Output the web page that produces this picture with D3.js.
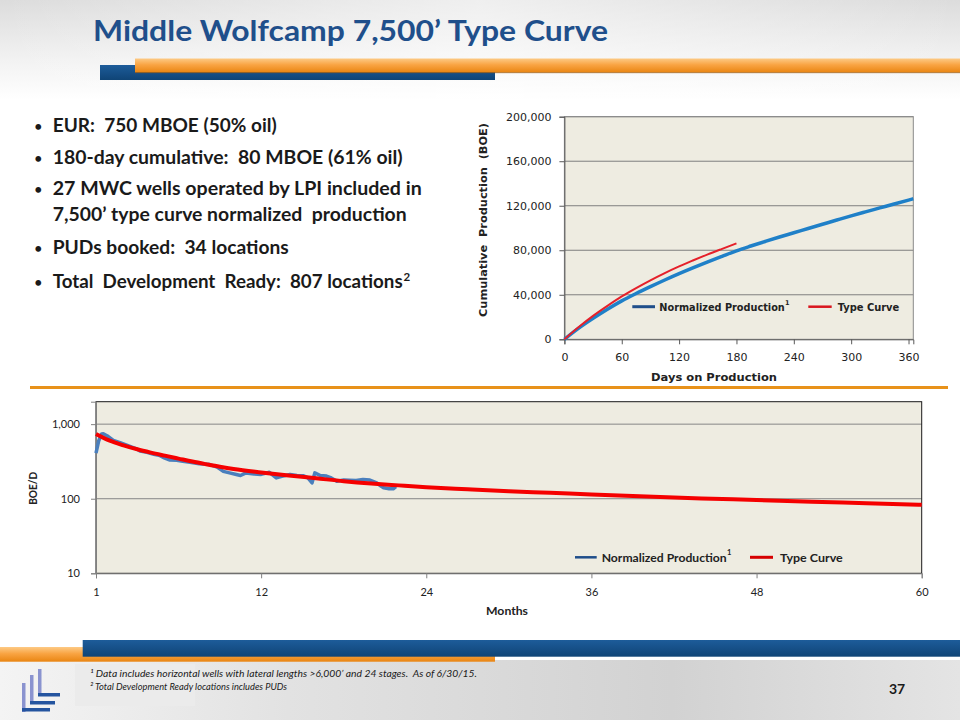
<!DOCTYPE html>
<html><head><meta charset="utf-8">
<script src="https://cdn.jsdelivr.net/npm/d3@7"></script>
<style>body{margin:0;background:#fff}svg{display:block}text{white-space:pre}</style>
</head><body>
<script>
// ---------- DATA ----------
const titleText = "Middle Wolfcamp 7,500’ Type Curve";
const bullets = [
  "EUR:  750 MBOE (50% oil)",
  "180-day cumulative:  80 MBOE (61% oil)",
  "27 MWC wells operated by LPI included in",
  "7,500’ type curve normalized  production",
  "PUDs booked:  34 locations",
  "Total  Development  Ready:  807 locations"
];
const bulletHasDot = [true, true, true, false, true, true];
const footnotes = [
  "¹ Data includes horizontal wells with lateral lengths >6,000’ and 24 stages.  As of 6/30/15.",
  "² Total Development Ready locations includes PUDs"
];
const pageNumber = "37";
const seriesNames = ["Normalized Production", "Type Curve"];

// Top chart: cumulative production (BOE) vs days on production
const cumTicksX = [0, 60, 120, 180, 240, 300, 360];
const cumTicksY = [0, 40000, 80000, 120000, 160000, 200000];
const normDays = [0,15,30,45,60,75,90,105,120,135,150,165,180,195,210,225,240,255,270,285,300,315,330,345,360,365];
const normCum  = [0,10000,18800,27000,34500,41100,47300,53300,59000,64400,69600,74600,79500,83800,87900,91900,95700,99550,103350,107150,110900,114500,118050,121600,125100,126250];
const typeDays = [0,15,30,45,60,75,90,105,120,135,150,165,180];
const typeCum  = [0,11000,21000,30000,38500,46000,53000,59500,65500,71000,76300,81300,86200];

// Bottom chart: BOE/D vs months (log scale)
const rateTicksY = [10, 100, 1000];
const monthTickPos = [0, 12, 24, 36, 48, 60];
const monthTickLabels = ["1", "12", "24", "36", "48", "60"];
const typeMonth = [0,1,2,3,4,5,6,7,8,9,10,12,14,16,18,20,22,24,27,30,33,36,40,44,48,52,56,60];
const typeRate  = [740,600,520,460,415,378,345,315,290,268,250,225,205,188,172,160,151,143,134,126,120,114,107,101,96,91,87,83];
const normMonth = [0,0.2,0.41,0.53,0.8,1.26,1.8,2.47,2.9,3.2,3.7,4.2,4.65,5.0,5.37,5.86,6.3,6.83,7.5,8.28,8.8,9.25,9.7,10.2,10.5,10.9,11.5,12.0,12.6,13.1,13.5,14.1,14.6,15.05,15.4,15.7,15.9,16.3,16.75,17.1,17.5,18.0,18.4,18.9,19.4,19.9,20.4,20.7,20.9,21.3,21.6,21.8];
const normRate  = [410,600,740,745,700,605,560,503,470,435,420,395,378,350,330,327,318,308,295,287,265,233,222,211,205,222,215,212,226,190,200,211,205,204,190,163,222,205,201,190,172,178,177,175,181,178,163,148,140,136,136,145];

// ---------- DRAW ----------
const svg = d3.select("body").append("svg").attr("width", 960).attr("height", 720);
const defs = svg.append("defs");
function lin(id, stops, x2, y2) {
  const g = defs.append("linearGradient").attr("id", id).attr("x1", 0).attr("y1", 0).attr("x2", x2).attr("y2", y2);
  stops.forEach(s => g.append("stop").attr("offset", s[0]).attr("stop-color", s[1]).attr("stop-opacity", s[2] == null ? 1 : s[2]));
}
lin("orangeG", [[0,"#fdca85"],[0.45,"#f9a443"],[1,"#e98512"]], 0, 1);
lin("blueG", [[0,"#1d5c9a"],[1,"#0f4476"]], 0, 1);
lin("topBg", [[0,"#dcdcdc"],[0.6,"#f2f2f2"],[1,"#ffffff"]], 0, 1);
lin("topBgH", [[0,"#ffffff",0.0],[0.5,"#ffffff",0.55],[1,"#ffffff",0.0]], 1, 0);
lin("botBgH", [[0,"#f4f4f4"],[0.3,"#e2e2e2"],[0.7,"#d2d2d2"],[1,"#e4e4e4"]], 1, 0);

// slide background (faint photo-like washes)
svg.append("rect").attr("x",0).attr("y",0).attr("width",960).attr("height",100).attr("fill","url(#topBg)");
svg.append("rect").attr("x",0).attr("y",0).attr("width",960).attr("height",100).attr("fill","url(#topBgH)");
svg.append("rect").attr("x",0).attr("y",100).attr("width",960).attr("height",540).attr("fill","#ffffff");
svg.append("rect").attr("x",0).attr("y",660).attr("width",960).attr("height",60).attr("fill","url(#botBgH)");
svg.append("rect").attr("x",75).attr("y",664).attr("width",120).attr("height",42).attr("fill","#ebebeb");

// title
svg.append("text").attr("x", 93).attr("y", 41)
  .attr("font-family", "Lato, 'Open Sans', sans-serif").attr("font-weight", 700).attr("font-size", 28)
  .attr("fill", "#1f4f8b").attr("textLength", 515).attr("lengthAdjust", "spacingAndGlyphs").text(titleText);

// header bars
svg.append("rect").attr("x",100).attr("y",65).attr("width",395).attr("height",15).attr("fill","url(#blueG)");
svg.append("rect").attr("x",135).attr("y",58.5).attr("width",825).attr("height",14).attr("fill","url(#orangeG)");
svg.append("rect").attr("x",135).attr("y",72).attr("width",825).attr("height",1.2).attr("fill","#9a5a10").attr("opacity",0.6);

// bullets
const bulletBase = [131.5, 164, 195, 221, 254, 288];
const bulletWidth = [224, 350, 369, 354, 236, 350];
const bg = svg.append("g").attr("font-family", "Lato, sans-serif").attr("font-weight", 700).attr("fill", "#1a1a1a");
bullets.forEach((b, i) => {
  if (bulletHasDot[i]) bg.append("text").attr("x", 38.3).attr("y", bulletBase[i] - 1).attr("text-anchor", "middle").attr("font-size", 13).text("•");
  bg.append("text").attr("x", 52.7).attr("y", bulletBase[i]).attr("font-size", 18)
    .attr("textLength", bulletWidth[i]).attr("lengthAdjust", "spacingAndGlyphs").text(b);
});
bg.append("text").attr("x", 403.5).attr("y", bulletBase[5] - 7).attr("font-size", 11.5).text("2");

// ---------- TOP CHART ----------
const tx = d3.scaleLinear().domain([0, 365]).range([564.4, 913.3]);
const ty = d3.scaleLinear().domain([0, 200000]).range([339.3, 116.7]);
const topG = svg.append("g");
topG.append("rect").attr("x", tx(0)).attr("y", ty(200000)).attr("width", tx(365) - tx(0)).attr("height", ty(0) - ty(200000)).attr("fill", "#eeece1");
topG.append("g").selectAll("line").data(cumTicksY.slice(1)).join("line")
  .attr("x1", tx(0)).attr("x2", tx(365)).attr("y1", d => ty(d)).attr("y2", d => ty(d)).attr("stroke", "#7f7f7f").attr("stroke-width", 1);
topG.append("rect").attr("x", tx(0)).attr("y", ty(200000)).attr("width", tx(365) - tx(0)).attr("height", ty(0) - ty(200000))
  .attr("fill", "none").attr("stroke", "#8a8a8a").attr("stroke-width", 1);
const tyAxis = topG.append("g").attr("transform", `translate(${tx(0)},0)`)
  .call(d3.axisLeft(ty).tickValues(cumTicksY).tickSize(5).tickPadding(8).tickFormat(d3.format(",")));
const txAxis = topG.append("g").attr("transform", `translate(0,${ty(0)})`)
  .call(d3.axisBottom(tx).tickValues(cumTicksX).tickSize(5).tickPadding(9));
[tyAxis, txAxis].forEach(a => {
  a.select(".domain").attr("stroke", "#595959");
  a.selectAll(".tick line").attr("stroke", "#595959");
  a.selectAll("text").attr("font-family", "'DejaVu Sans', Verdana, sans-serif").attr("font-size", 11).attr("fill", "#222");
});
const topLine = d3.line().x(d => tx(d[0])).y(d => ty(d[1])).curve(d3.curveMonotoneX);
topG.append("path").datum(normDays.map((d, i) => [d, normCum[i]])).attr("d", topLine)
  .attr("fill", "none").attr("stroke", "#1f80c8").attr("stroke-width", 3.5);
topG.append("path").datum(typeDays.map((d, i) => [d, typeCum[i]])).attr("d", topLine)
  .attr("fill", "none").attr("stroke", "#e5202a").attr("stroke-width", 2);
// legend
const tl = topG.append("g").attr("font-family", "'DejaVu Sans', Verdana, sans-serif").attr("font-weight", 700).attr("fill", "#222");
tl.append("line").attr("x1", 632.3).attr("x2", 655).attr("y1", 306.7).attr("y2", 306.7).attr("stroke", "#1f4e8a").attr("stroke-width", 3);
tl.append("text").attr("x", 659.3).attr("y", 310.5).attr("font-size", 9.6).attr("textLength", 125.5).attr("lengthAdjust", "spacingAndGlyphs").text(seriesNames[0]);
tl.append("text").attr("x", 785).attr("y", 305).attr("font-size", 6.5).text("1");
tl.append("line").attr("x1", 808.3).attr("x2", 831.7).attr("y1", 306.7).attr("y2", 306.7).attr("stroke", "#d9161e").attr("stroke-width", 2.5);
tl.append("text").attr("x", 837.7).attr("y", 310.5).attr("font-size", 9.6).attr("textLength", 61.6).attr("lengthAdjust", "spacingAndGlyphs").text(seriesNames[1]);
// axis titles
topG.append("text").attr("x", 714).attr("y", 380.5).attr("text-anchor", "middle")
  .attr("font-family", "'DejaVu Sans', Verdana, sans-serif").attr("font-weight", 700).attr("font-size", 11.3).attr("fill", "#222")
  .attr("textLength", 126).attr("lengthAdjust", "spacingAndGlyphs").text("Days on Production");
topG.append("text").attr("transform", "translate(486.5,220) rotate(-90)").attr("text-anchor", "middle")
  .attr("font-family", "'DejaVu Sans', Verdana, sans-serif").attr("font-weight", 700).attr("font-size", 11.3).attr("fill", "#222")
  .attr("textLength", 194).attr("lengthAdjust", "spacingAndGlyphs").text("Cumulative  Production  (BOE)");

// separator
svg.append("rect").attr("x", 30).attr("y", 386).attr("width", 918).attr("height", 3).attr("fill", "#e8921a");

// ---------- BOTTOM CHART ----------
const bx = d3.scaleLinear().domain([0, 60]).range([96, 921.7]);
const by = d3.scaleLog().domain([10, 2000]).range([573.3, 401.7]);
const botG = svg.append("g");
botG.append("rect").attr("x", bx(0)).attr("y", by(2000)).attr("width", bx(60) - bx(0)).attr("height", by(10) - by(2000)).attr("fill", "#eeece1");
botG.append("g").selectAll("line").data([100, 1000]).join("line")
  .attr("x1", bx(0)).attr("x2", bx(60)).attr("y1", d => by(d)).attr("y2", d => by(d)).attr("stroke", "#868686").attr("stroke-width", 1);
botG.append("rect").attr("x", bx(0)).attr("y", by(2000)).attr("width", bx(60) - bx(0)).attr("height", by(10) - by(2000))
  .attr("fill", "none").attr("stroke", "#1a1a1a").attr("stroke-width", 1);
const byAxis = botG.append("g").attr("transform", `translate(${bx(0)},0)`)
  .call(d3.axisLeft(by).tickValues(rateTicksY).tickSize(5).tickPadding(11).tickFormat(d3.format(",")));
const bxAxis = botG.append("g").attr("transform", `translate(0,${by(10)})`)
  .call(d3.axisBottom(bx).tickValues(monthTickPos).tickSize(5).tickPadding(10).tickFormat((d, i) => monthTickLabels[i]));
[byAxis, bxAxis].forEach(a => {
  a.select(".domain").attr("stroke", "#808080");
  a.selectAll(".tick line").attr("stroke", "#808080");
  a.selectAll("text").attr("font-family", "Lato, sans-serif").attr("font-size", 11).attr("fill", "#222");
});
botG.append("path").datum(normMonth.map((d, i) => [d, normRate[i]]))
  .attr("d", d3.line().x(d => bx(d[0])).y(d => by(d[1])).curve(d3.curveLinear))
  .attr("fill", "none").attr("stroke", "#4a7fbd").attr("stroke-width", 3.5).attr("stroke-linejoin", "round");
botG.append("path").datum(typeMonth.map((d, i) => [d, typeRate[i]]))
  .attr("d", d3.line().x(d => bx(d[0])).y(d => by(d[1])).curve(d3.curveMonotoneX))
  .attr("fill", "none").attr("stroke", "#f50000").attr("stroke-width", 4);
// legend
const bl = botG.append("g").attr("font-family", "Lato, sans-serif").attr("font-weight", 700).attr("fill", "#222");
bl.append("line").attr("x1", 575).attr("x2", 596.7).attr("y1", 557.3).attr("y2", 557.3).attr("stroke", "#1f4e8a").attr("stroke-width", 2.5);
bl.append("text").attr("x", 601.7).attr("y", 561.5).attr("font-size", 11).attr("textLength", 125).attr("lengthAdjust", "spacingAndGlyphs").text(seriesNames[0]);
bl.append("text").attr("x", 727).attr("y", 555).attr("font-size", 7.5).text("1");
bl.append("line").attr("x1", 750).attr("x2", 773).attr("y1", 557.3).attr("y2", 557.3).attr("stroke", "#d60000").attr("stroke-width", 3);
bl.append("text").attr("x", 780).attr("y", 561.5).attr("font-size", 11).attr("textLength", 62.7).attr("lengthAdjust", "spacingAndGlyphs").text(seriesNames[1]);
// axis titles
botG.append("text").attr("x", 507).attr("y", 614.5).attr("text-anchor", "middle")
  .attr("font-family", "Lato, sans-serif").attr("font-weight", 700).attr("font-size", 11).attr("fill", "#222")
  .attr("textLength", 42).attr("lengthAdjust", "spacingAndGlyphs").text("Months");
botG.append("text").attr("transform", "translate(37,488.3) rotate(-90)").attr("text-anchor", "middle")
  .attr("font-family", "Lato, sans-serif").attr("font-weight", 700).attr("font-size", 11).attr("fill", "#222")
  .attr("textLength", 33).attr("lengthAdjust", "spacingAndGlyphs").text("BOE/D");

// ---------- FOOTER ----------
svg.append("rect").attr("x", 0).attr("y", 647).attr("width", 495).attr("height", 14.7).attr("fill", "url(#orangeG)");
svg.append("rect").attr("x", 82.7).attr("y", 640).attr("width", 877.3).attr("height", 16.7).attr("fill", "url(#blueG)");
// logo
const logo = svg.append("g");
[[22,683,712],[30,675,703],[38,669,695]].forEach(v =>
  logo.append("rect").attr("x", v[0]).attr("y", v[1]).attr("width", 3.5).attr("height", v[2] - v[1]).attr("fill", "#8a93cf"));
[[22,708,50],[30,701,55],[38,693,60]].forEach(h =>
  logo.append("rect").attr("x", h[0]).attr("y", h[1]).attr("width", h[2] - h[0]).attr("height", 3.5).attr("fill", "#24549f"));
// footnotes
const fn = svg.append("g").attr("font-family", "Lato, sans-serif").attr("font-style", "italic").attr("font-size", 9.5).attr("fill", "#1a1a1a");
fn.append("text").attr("x", 90).attr("y", 677).attr("textLength", 387).attr("lengthAdjust", "spacingAndGlyphs").text(footnotes[0]);
fn.append("text").attr("x", 90).attr("y", 690).attr("textLength", 197).attr("lengthAdjust", "spacingAndGlyphs").text(footnotes[1]);
svg.append("text").attr("x", 897).attr("y", 694).attr("text-anchor", "middle")
  .attr("font-family", "Lato, sans-serif").attr("font-weight", 700).attr("font-size", 14).attr("fill", "#1a1a1a").text(pageNumber);
</script>
</body></html>
